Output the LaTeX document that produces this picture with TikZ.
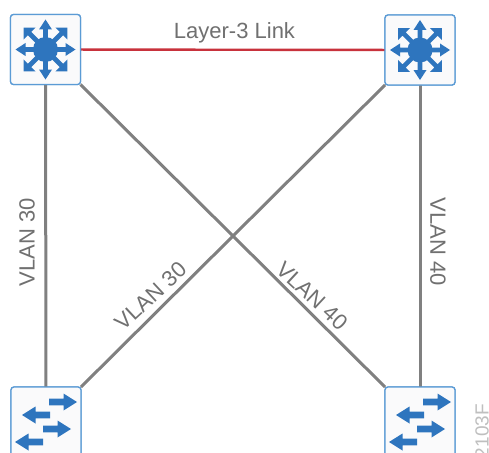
\documentclass[tikz,border=0pt]{standalone}
\usepackage{fontspec}
\setmainfont{Liberation Sans}
\definecolor{boxblue}{HTML}{5B9BD5}
\definecolor{iconblue}{HTML}{2E75BE}
\definecolor{linkgrey}{HTML}{808080}
\definecolor{linkred}{HTML}{C8323C}
\definecolor{labelgrey}{HTML}{707070}
\definecolor{fillwhite}{HTML}{FAFAFB}
\tikzset{
  device/.style={draw=boxblue,fill=fillwhite,line width=1.3pt,rounded corners=3pt,minimum width=70pt,minimum height=70pt,inner sep=0pt,outer sep=0pt},
  trunk/.style={draw=linkgrey,line width=3pt},
  l3link/.style={draw=linkred,line width=2.4pt},
  vlanlabel/.style={text=labelgrey,font=\fontsize{22}{22}\selectfont,inner sep=0pt},
  tag/.style={text=black!25,font=\fontsize{19}{19}\selectfont,inner sep=0pt},
  pics/router/.style={code={
    \fill[iconblue] (0,0) circle (12.5);
    \foreach \a in {0,90,180,270}{
      \fill[iconblue,rotate=\a] (8,-2.3) -- (20,-2.3) -- (20,-6.5) -- (30,0) -- (20,6.5) -- (20,2.3) -- (8,2.3) -- cycle;
    }
    \foreach \a in {45,135,225,315}{
      \fill[iconblue,rotate=\a] (8,-2.3) -- (22.5,-2.3) -- (22.5,-8.5) -- (31,0) -- (22.5,8.5) -- (22.5,2.3) -- (8,2.3) -- cycle;
    }
  }},
  pics/rarrow/.style={code={
    \fill[iconblue] (0,-3.3) -- (14.5,-3.3) -- (14.5,-8.5) -- (28,0) -- (14.5,8.5) -- (14.5,3.3) -- (0,3.3) -- cycle;
  }},
  pics/larrow/.style={code={
    \fill[iconblue] (0,-3.3) -- (-14.5,-3.3) -- (-14.5,-8.5) -- (-28,0) -- (-14.5,8.5) -- (-14.5,3.3) -- (0,3.3) -- cycle;
  }},
  pics/switcharrows/.style={code={
    \pic at (3,-20) {rarrow};
    \pic at (4,-7) {larrow};
    \pic at (-3,7) {rarrow};
    \pic at (-3,20) {larrow};
  }},
}
\begin{document}
\begin{tikzpicture}[x=1pt,y=-1pt]
\useasboundingbox (0,0) rectangle (489,452);
\fill[white] (0,0) rectangle (489,452);
\node[device] (tl) at (45.5,49.5) {};
\node[device] (tr) at (420,50) {};
\node[device] (bl) at (46,422) {};
\node[device] (br) at (420,422) {};
\draw[l3link] (tl) -- (tr);
\draw[trunk] (tl) -- (bl);
\draw[trunk] (tr) -- (br);
\draw[trunk] (tl.south east) -- (br.north west);
\draw[trunk] (tr.south west) -- (bl.north east);
\node[device] at (tl) {};
\node[device] at (tr) {};
\node[device] at (bl) {};
\node[device] at (br) {};
\pic at (tl) {router};
\pic at (tr) {router};
\pic at (bl) {switcharrows};
\pic at (br) {switcharrows};
\node[vlanlabel] (layer) at (234.5,33) {Layer-3 Link};
\node[vlanlabel,rotate=90] (v30l) at (27,242) {VLAN 30};
\node[vlanlabel,rotate=-90] (v40r) at (438,242) {VLAN 40};
\node[vlanlabel,rotate=43] (v30d) at (151,296) {VLAN 30};
\node[vlanlabel,rotate=-43] (v40d) at (312,296) {VLAN 40};
\node[tag,rotate=90,anchor=east] (code) at (482,404) {2103F};
\end{tikzpicture}
\end{document}
